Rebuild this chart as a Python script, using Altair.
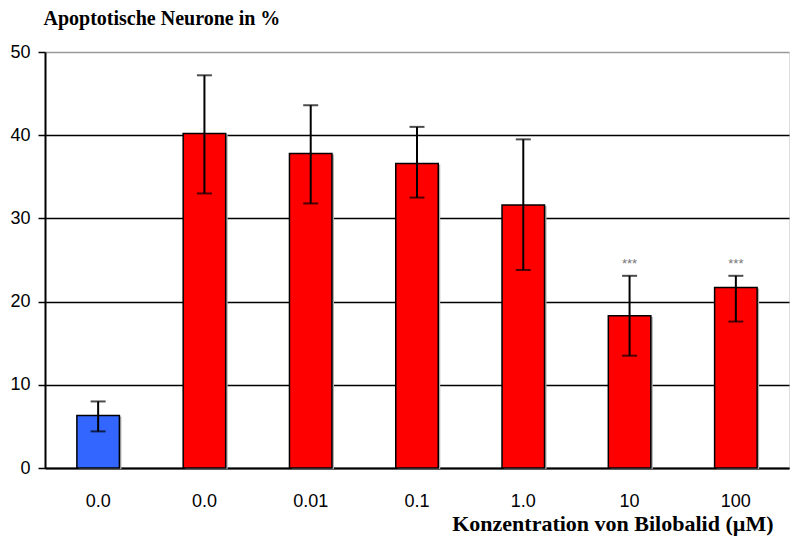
import json
import altair as alt
import pandas as pd

categories = ["0.0", "0.0", "0.01", "0.1", "1.0", "10", "100"]
groups = ["Kontrolle", "Bilobalid", "Bilobalid", "Bilobalid", "Bilobalid", "Bilobalid", "Bilobalid"]
values = [6.3, 40.2, 37.8, 36.6, 31.6, 18.3, 21.7]
upper = [8.0, 47.2, 43.6, 41.0, 39.5, 23.1, 23.1]
lower = [4.4, 33.0, 31.8, 32.5, 23.8, 13.5, 17.6]
significance = ["", "", "", "", "", "***", "***"]

df = pd.DataFrame({
    "k": list(range(len(categories))),
    "label": categories,
    "group": groups,
    "value": values,
    "upper": upper,
    "lower": lower,
    "sig": significance,
})

label_expr = json.dumps(categories) + "[datum.value]"

x = alt.X(
    "k:O",
    scale=alt.Scale(paddingInner=0.6, paddingOuter=0.3),
    axis=alt.Axis(
        labelExpr=label_expr,
        labelAngle=0,
        ticks=False,
        tickSize=0,
        labelPadding=24,
        labelBaseline="top",
        labelFont="Liberation Sans",
        labelFontSize=18,
        labelColor="black",
        domainColor="black",
        domainWidth=2,
        title="Konzentration von Bilobalid (µM)",
        titleFont="Liberation Serif",
        titleFontWeight="bold",
        titleFontSize=22,
        titleColor="black",
        titleAlign="right",
        titleAnchor="end",
        titleBaseline="alphabetic",
        titleX=728,
        titleY=62,
    ),
)

y_scale = alt.Scale(domain=[0, 50], nice=False)
y = alt.Y(
    "value:Q",
    scale=y_scale,
    axis=alt.Axis(
        values=[0, 10, 20, 30, 40, 50],
        grid=True,
        gridColor={"condition": {"test": "datum.value >= 50", "value": "#999999"}, "value": "black"},
        gridWidth=1.5,
        tickSize=7,
        tickColor="black",
        tickWidth=1.5,
        domainColor="black",
        domainWidth=2,
        labelPadding=8,
        labelFont="Liberation Sans",
        labelFontSize=18,
        labelColor="black",
        title="Apoptotische Neurone in %",
        titleAngle=0,
        titleFont="Liberation Serif",
        titleFontWeight="bold",
        titleFontSize=20,
        titleColor="black",
        titleAlign="left",
        titleBaseline="alphabetic",
        titleX=-2,
        titleY=-28,
    ),
)

base = alt.Chart(df)

shadow = base.mark_bar(color="#b0b0b0", xOffset=2, yOffset=1).encode(
    x=x, y=alt.Y("value:Q", scale=y_scale)
)

bars = base.mark_bar(stroke="black", strokeWidth=1.5).encode(
    x=x,
    y=y,
    color=alt.Color(
        "group:N",
        scale=alt.Scale(domain=["Kontrolle", "Bilobalid"], range=["#3366ff", "#ff0000"]),
        legend=None,
    ),
)

err = base.mark_rule(color="black", strokeWidth=2).encode(
    x=x, y=alt.Y("lower:Q", scale=y_scale), y2="upper:Q"
)
cap_hi = base.mark_tick(color="black", size=15, thickness=2).encode(
    x=x, y=alt.Y("upper:Q", scale=y_scale)
)
cap_lo = base.mark_tick(color="black", size=15, thickness=2).encode(
    x=x, y=alt.Y("lower:Q", scale=y_scale)
)
stars = base.mark_text(
    font="Liberation Sans", fontSize=13, color="#777777", dy=-8, baseline="alphabetic"
).encode(x=x, y=alt.Y("upper:Q", scale=y_scale), text="sig:N")

chart = (
    alt.layer(shadow, bars, err, cap_hi, cap_lo, stars)
    .properties(
        width=744,
        height=416,
        autosize="none",
        padding={"left": 37, "top": 44, "right": 6, "bottom": 68},
    )
    .configure_view(stroke="#999999", strokeWidth=1.5)
    .configure(background="white")
)

chart.save("out.html", embed_options={"renderer": "svg", "actions": False})
